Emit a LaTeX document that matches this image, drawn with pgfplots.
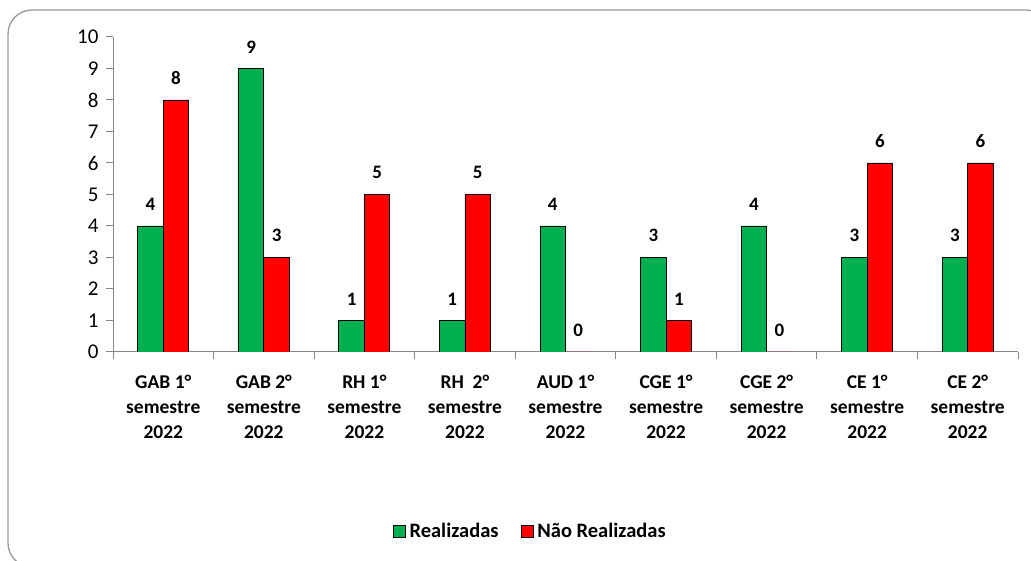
\documentclass[border=0pt]{standalone}
\usepackage{pgfplots}
\pgfplotsset{compat=1.18}
\usepackage{fontspec}
\setmainfont{Carlito}
\definecolor{grn}{HTML}{00B050}
\definecolor{rd}{HTML}{FF0000}
\definecolor{axgray}{HTML}{868686}
\begin{document}
\begin{tikzpicture}[x=1bp,y=1bp]
\useasboundingbox (0,0) rectangle (1031,561);
\begin{scope}
\clip (0,0) rectangle (1031,561);
\draw[color=black!40, line width=1.3bp, rounded corners=24bp] (8,-6) rectangle (1050,551);
\end{scope}
\begin{axis}[
  at={(113bp,209bp)}, anchor=south west,
  scale only axis, width=905bp, height=315bp,
  ybar=0pt, bar width=25.5bp,
  xmin=-0.5, xmax=8.5, ymin=0, ymax=10,
  axis x line*=bottom, axis y line*=left,
  axis line style={-, axgray, line width=1bp},
  xtick={0,...,8},
  xticklabels={{GAB 1°\\semestre\\2022},{GAB 2°\\semestre\\2022},{RH 1°\\semestre\\2022},{RH~~2°\\semestre\\2022},{AUD 1°\\semestre\\2022},{CGE 1°\\semestre\\2022},{CGE 2°\\semestre\\2022},{CE 1°\\semestre\\2022},{CE 2°\\semestre\\2022}},
  xticklabel style={align=center, font=\bfseries\fontsize{19.5bp}{25bp}\selectfont, yshift=-13bp},
  major x tick style={draw=none},
  minor xtick={-0.5,0.5,...,8.5},
  minor tick length=7bp,
  minor x tick style={axgray, line width=1bp},
  ytick={0,...,10},
  yticklabel style={font=\fontsize{21bp}{21bp}\selectfont, xshift=-4bp},
  /pgf/number format/assume math mode=true,
  major tick length=7bp,
  tick align=outside,
  major y tick style={axgray, line width=1bp},
  nodes near coords,
  every node near coord/.append style={font=\bfseries\fontsize{19bp}{19bp}\selectfont, anchor=south, inner sep=0pt, yshift=15bp, black},
  legend columns=2,
  legend style={draw=none, at={(0.461,-0.568)}, anchor=center, font=\bfseries\fontsize{20.5bp}{20.5bp}\selectfont, /tikz/every odd column/.append style={column sep=2bp}, /tikz/every even column/.append style={column sep=20bp}},
  legend image code/.code={\draw[#1, draw=black] (0bp,-6bp) rectangle (12bp,6bp);},
]
\addplot[fill=grn, draw=black, line width=0.8bp] coordinates {(0,4) (1,9) (2,1) (3,1) (4,4) (5,3) (6,4) (7,3) (8,3)};
\addplot[fill=rd, draw=black, line width=0.8bp] coordinates {(0,8) (1,3) (2,5) (3,5) (4,0) (5,1) (6,0) (7,6) (8,6)};
\legend{Realizadas, Não Realizadas}
\end{axis}
\end{tikzpicture}
\end{document}
